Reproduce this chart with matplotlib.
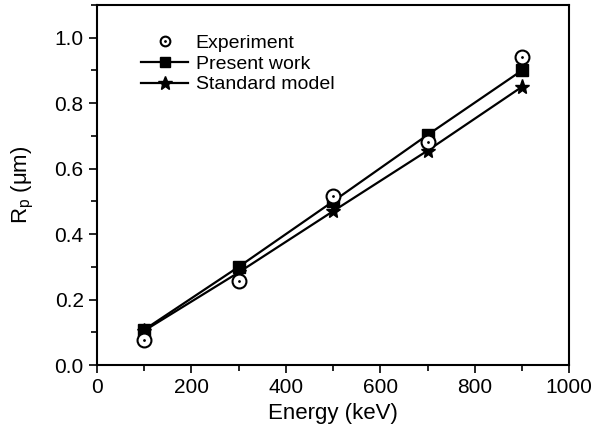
import matplotlib
matplotlib.use("Agg")
import matplotlib.pyplot as plt
from matplotlib.ticker import MultipleLocator
from matplotlib.legend_handler import HandlerTuple

plt.rcParams['font.family'] = ['Liberation Sans', 'DejaVu Sans']

energy = [100, 300, 500, 700, 900]
experiment = [0.078, 0.258, 0.515, 0.68, 0.94]
present_work = [0.108, 0.300, 0.500, 0.703, 0.900]
standard_model = [0.105, 0.283, 0.470, 0.655, 0.850]

fig = plt.figure(figsize=(5.98, 4.41), dpi=100)
ax = fig.add_axes([0.162, 0.172, 0.79, 0.817])

# experiment: open circle with a dot in the middle
h_ring, = ax.plot(energy, experiment, 'o', ms=10, mfc='white', mec='black', mew=1.5, zorder=3)
h_dot, = ax.plot(energy, experiment, '.', ms=2, color='black', zorder=4)
h_pw, = ax.plot(energy, present_work, '-s', color='black', lw=1.6, ms=8, zorder=2)
h_sm, = ax.plot(energy, standard_model, '-*', color='black', lw=1.6, ms=11, zorder=2)

ax.set_xlim(0, 1000)
ax.set_ylim(0, 1.1)
ax.xaxis.set_major_locator(MultipleLocator(200))
ax.xaxis.set_minor_locator(MultipleLocator(100))
ax.yaxis.set_major_locator(MultipleLocator(0.2))
ax.yaxis.set_minor_locator(MultipleLocator(0.1))
ax.yaxis.set_major_formatter(plt.FormatStrFormatter('%.1f'))
ax.tick_params(which='major', length=6, width=1.2, labelsize=15, direction='out')
ax.tick_params(which='minor', length=4, width=1.2, direction='out')
for s in ax.spines.values():
    s.set_linewidth(1.5)

ax.set_xlabel('Energy (keV)', fontsize=16, labelpad=4)
ax.set_ylabel(r'R$_\mathregular{p}$ ($\mathregular{\mu}$m)', fontsize=16, labelpad=13)

# legend markers a bit smaller than in the plot
l_ring = plt.Line2D([], [], ls='none', marker='o', ms=7, mfc='white', mec='black', mew=1.5)
l_dot = plt.Line2D([], [], ls='none', marker='.', ms=2, color='black')
l_pw = plt.Line2D([], [], ls='-', marker='s', ms=7, color='black', lw=1.6)
l_sm = plt.Line2D([], [], ls='-', marker='*', ms=10, color='black', lw=1.6)

ax.legend([(l_ring, l_dot), l_pw, l_sm],
          ['Experiment', 'Present work', 'Standard model'],
          handler_map={tuple: HandlerTuple(ndivide=1)},
          loc='upper left', bbox_to_anchor=(0.065, 0.955), frameon=False,
          fontsize=14, handlelength=2.4, handletextpad=0.4, labelspacing=0.15,
          borderpad=0.2)

fig.savefig('out.png', dpi=100)
